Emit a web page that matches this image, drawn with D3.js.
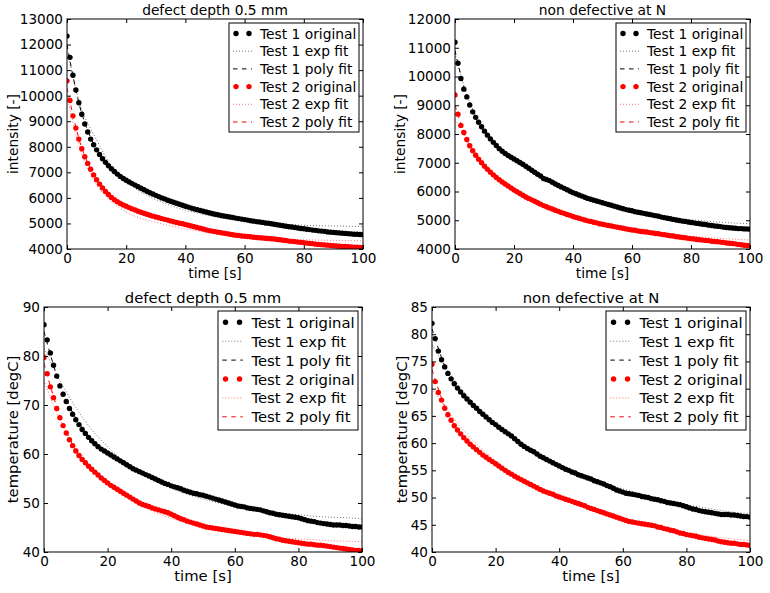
<!DOCTYPE html>
<html>
<head>
<meta charset="utf-8">
<script src="https://cdn.jsdelivr.net/npm/d3@7"></script>
<style>
  body { margin: 0; background: #fff; }
  svg { display: block; }
  text { font-family: "DejaVu Sans", sans-serif; fill: #000; }
</style>
</head>
<body>
<div id="chart"></div>
<script>
// time axis: one sample per second for the measured curves, every 5 s for the fits
var time = d3.range(0, 101);
var fitTime = [0, 5, 10, 15, 20, 25, 30, 35, 40, 45, 50, 55, 60, 65, 70, 75, 80, 85, 90, 95, 100];
var xTicks = [0, 20, 40, 60, 80, 100];

var titles = ["defect depth 0.5 mm", "non defective at N", "defect depth 0.5 mm", "non defective at N"];
var yLabels = ["intensity [-]", "intensity [-]", "temperature [degC]", "temperature [degC]"];
var legendLabels = ["Test 1 original", "Test 1 exp fit", "Test 1 poly fit",
                    "Test 2 original", "Test 2 exp fit", "Test 2 poly fit"];

var yTicksA = [4000, 5000, 6000, 7000, 8000, 9000, 10000, 11000, 12000, 13000];
var yTicksB = [4000, 5000, 6000, 7000, 8000, 9000, 10000, 11000, 12000];
var yTicksC = [40, 50, 60, 70, 80, 90];
var yTicksD = [40, 45, 50, 55, 60, 65, 70, 75, 80, 85];

// intensity, defect depth 0.5 mm
var A_t1 = [12330,11500,10800,10220,9720,9270,8890,8580,8300,8080,7880,
  7700,7530,7390,7260,7140,7030,6930,6840,6760,6690,
  6620,6560,6500,6440,6380,6320,6260,6200,6150,6100,
  6050,6000,5960,5910,5870,5830,5790,5750,5710,5670,
  5640,5600,5570,5540,5510,5480,5450,5420,5390,5360,
  5340,5310,5290,5270,5250,5230,5210,5190,5170,5150,
  5130,5110,5090,5070,5060,5040,5020,5010,4990,4970,
  4950,4930,4910,4890,4870,4860,4840,4820,4800,4790,
  4770,4760,4740,4730,4710,4700,4690,4670,4660,4650,
  4640,4630,4620,4610,4600,4590,4580,4580,4570,4560];
var A_t2 = [10580,9810,9210,8730,8300,7920,7610,7350,7120,6900,6710,
  6540,6390,6250,6130,6020,5930,5850,5780,5720,5670,
  5620,5570,5525,5480,5440,5400,5360,5320,5285,5250,
  5220,5190,5160,5130,5100,5070,5040,5010,4990,4960,
  4930,4900,4870,4840,4810,4780,4750,4720,4700,4680,
  4660,4640,4620,4600,4580,4560,4540,4530,4510,4500,
  4490,4480,4460,4450,4440,4430,4420,4410,4400,4390,
  4370,4360,4340,4330,4310,4300,4290,4270,4260,4250,
  4230,4220,4210,4190,4180,4170,4160,4150,4140,4130,
  4120,4110,4100,4100,4090,4080,4070,4070,4060,4050];
var A_exp1 = [11800,9450,8270,7250,6650,6230,5930,5700,5520,5380,5260,5170,5100,5050,5000,4960,4930,4910,4900,4890,4880];
var A_exp2 = [10000,7700,6500,5850,5450,5200,5050,4900,4790,4690,4600,4530,4480,4440,4410,4380,4360,4350,4340,4330,4320];
var A_poly1 = [12000,9300,7900,7130,6690,6370,6100,5870,5670,5500,5360,5250,5150,5060,4970,4880,4800,4720,4650,4600,4570];
var A_poly2 = [10300,7950,6710,6020,5670,5440,5250,5100,4960,4810,4680,4580,4500,4440,4390,4310,4250,4180,4130,4090,4050];

// intensity, non defective at N
var B_t1 = [11190,10460,9930,9560,9290,9010,8770,8580,8410,8250,8100,
  7960,7830,7710,7600,7490,7400,7320,7250,7190,7130,
  7070,7010,6950,6880,6810,6740,6670,6600,6540,6450,
  6420,6380,6320,6260,6210,6160,6110,6060,6010,5960,
  5920,5880,5840,5800,5760,5730,5700,5670,5640,5610,
  5580,5550,5520,5490,5460,5430,5400,5370,5350,5330,
  5300,5280,5260,5240,5220,5200,5180,5160,5140,5110,
  5090,5070,5050,5030,5010,4990,4970,4960,4940,4920,
  4910,4890,4880,4860,4850,4830,4820,4800,4790,4780,
  4760,4750,4740,4730,4720,4710,4710,4700,4700,4690];
var B_t2 = [9360,8690,8300,8050,7810,7590,7420,7260,7120,7000,6880,
  6770,6670,6580,6490,6410,6330,6260,6190,6120,6050,
  5990,5930,5870,5810,5760,5710,5660,5610,5560,5510,
  5470,5430,5390,5350,5310,5270,5240,5200,5170,5130,
  5100,5070,5040,5010,4980,4960,4930,4910,4880,4860,
  4840,4820,4800,4780,4760,4740,4720,4700,4680,4660,
  4650,4630,4610,4600,4590,4570,4560,4540,4530,4510,
  4500,4480,4460,4450,4430,4420,4400,4390,4370,4360,
  4350,4330,4320,4310,4300,4290,4270,4260,4250,4240,
  4230,4210,4200,4190,4180,4160,4150,4130,4120,4110];
var B_exp1 = [10800,9100,8150,7520,7080,6720,6420,6170,5950,5760,5590,5450,5330,5230,5150,5080,5020,4970,4930,4900,4880];
var B_exp2 = [8500,7650,6980,6480,6080,5770,5520,5320,5150,5000,4880,4780,4690,4620,4550,4500,4450,4410,4370,4340,4310];
var B_poly1 = [10900,9000,8080,7480,7120,6800,6480,6200,5960,5770,5600,5450,5320,5210,5110,5020,4930,4850,4780,4730,4700];
var B_poly2 = [9000,7580,6900,6460,6060,5760,5510,5310,5130,4980,4860,4760,4660,4590,4510,4430,4360,4300,4240,4180,4120];

// temperature, defect depth 0.5 mm
var C_t1 = [86.4,83.3,80.6,78.1,75.9,73.9,72.2,70.7,69.3,68.1,67.0,
  66.0,65.0,64.2,63.4,62.7,62.1,61.5,61.0,60.6,60.2,
  59.8,59.4,59.0,58.6,58.2,57.8,57.4,57.0,56.7,56.4,
  56.1,55.8,55.5,55.2,54.9,54.6,54.3,54.0,53.8,53.5,
  53.3,53.1,52.9,52.6,52.4,52.2,52.0,51.9,51.7,51.6,
  51.4,51.2,51.0,50.8,50.6,50.4,50.2,50.0,49.8,49.6,
  49.4,49.3,49.2,49.0,48.9,48.8,48.7,48.6,48.4,48.2,
  48.0,47.9,47.7,47.6,47.5,47.4,47.3,47.2,47.1,47.0,
  46.8,46.6,46.4,46.3,46.2,46.0,45.9,45.8,45.7,45.6,
  45.5,45.5,45.5,45.4,45.4,45.3,45.2,45.2,45.1,45.1];
var C_t2 = [79.7,76.4,73.7,71.5,69.3,67.4,65.8,64.3,62.9,61.7,60.6,
  59.7,58.9,58.2,57.5,56.9,56.3,55.7,55.1,54.6,54.1,
  53.6,53.2,52.8,52.4,52.0,51.6,51.2,50.8,50.4,50.0,
  49.7,49.5,49.3,49.0,48.8,48.6,48.4,48.2,48.0,47.7,
  47.4,47.1,46.8,46.6,46.3,46.1,45.9,45.7,45.5,45.3,
  45.1,45.0,44.9,44.8,44.7,44.6,44.5,44.4,44.3,44.2,
  44.1,44.0,43.9,43.8,43.7,43.6,43.6,43.5,43.4,43.3,
  43.1,42.9,42.7,42.6,42.4,42.3,42.2,42.1,42.0,41.9,
  41.8,41.7,41.6,41.6,41.5,41.4,41.4,41.3,41.2,41.1,
  41.0,40.9,40.8,40.7,40.6,40.5,40.4,40.3,40.3,40.2];
var C_exp1 = [81.5,75.0,69.5,65.0,61.5,58.6,56.3,54.5,53.0,51.8,50.8,50.0,49.3,48.7,48.3,47.9,47.6,47.3,47.1,47.0,46.8];
var C_exp2 = [75.0,67.0,61.5,57.2,54.0,51.5,49.6,48.1,46.9,45.9,45.1,44.5,44.0,43.6,43.2,42.9,42.7,42.5,42.3,42.2,42.1];
var C_poly1 = [85.0,74.2,67.3,62.9,60.1,58.2,56.5,55.0,53.6,52.5,51.5,50.7,49.8,49.0,48.3,47.6,47.0,46.3,45.8,45.4,45.1];
var C_poly2 = [78.5,67.8,60.8,56.8,54.0,52.0,50.1,48.8,47.7,46.4,45.4,44.7,44.2,43.7,43.2,42.5,42.0,41.6,41.2,40.7,40.2];

// temperature, non defective at N
var D_t1 = [82.0,79.2,76.9,75.3,74.0,72.8,71.8,70.9,70.1,69.4,68.7,
  68.1,67.5,66.9,66.4,65.8,65.3,64.8,64.3,63.8,63.4,
  62.9,62.5,62.1,61.7,61.3,60.8,60.3,59.8,59.4,59.0,
  58.7,58.4,58.0,57.6,57.3,57.0,56.7,56.4,56.1,55.8,
  55.5,55.2,55.0,54.7,54.5,54.2,54.0,53.8,53.6,53.4,
  53.1,52.9,52.7,52.5,52.2,52.0,51.7,51.4,51.2,51.0,
  50.8,50.7,50.6,50.5,50.4,50.2,50.1,50.0,49.8,49.7,
  49.6,49.4,49.3,49.1,49.0,48.9,48.8,48.7,48.5,48.3,
  48.1,47.9,47.8,47.6,47.5,47.4,47.3,47.2,47.1,47.0,
  46.9,46.9,46.9,46.8,46.8,46.7,46.6,46.5,46.5,46.4];
var D_t2 = [74.5,71.3,69.3,67.9,66.4,65.2,64.2,63.2,62.4,61.7,61.0,
  60.4,59.8,59.3,58.8,58.3,57.8,57.4,57.0,56.6,56.2,
  55.8,55.4,55.0,54.6,54.3,53.9,53.6,53.3,53.0,52.7,
  52.4,52.1,51.8,51.5,51.2,51.0,50.8,50.6,50.3,50.1,
  49.9,49.7,49.5,49.3,49.1,48.9,48.7,48.5,48.2,48.0,
  47.8,47.6,47.4,47.2,47.0,46.8,46.6,46.4,46.2,46.0,
  45.8,45.6,45.5,45.4,45.3,45.2,45.1,45.0,44.9,44.8,
  44.6,44.5,44.3,44.2,44.0,43.9,43.7,43.5,43.4,43.2,
  43.1,43.0,42.9,42.7,42.6,42.5,42.4,42.3,42.2,42.0,
  41.9,41.8,41.7,41.6,41.6,41.5,41.4,41.4,41.3,41.2];
var D_exp1 = [78.0,73.3,69.4,66.2,63.5,61.2,59.2,57.5,56.0,54.7,53.5,52.5,51.6,50.8,50.0,49.3,48.7,48.2,47.7,47.3,47.0];
var D_exp2 = [70.0,66.0,62.3,59.3,56.8,54.6,52.8,51.3,50.0,48.8,47.8,46.9,46.1,45.4,44.7,44.1,43.6,43.1,42.7,42.4,42.1];
var D_poly1 = [81.0,72.9,68.7,65.8,63.4,61.3,59.1,57.4,55.9,54.6,53.4,52.3,51.2,50.4,49.7,49.0,48.4,47.7,47.1,46.7,46.4];
var D_poly2 = [73.5,65.4,61.0,58.4,56.2,54.3,52.7,51.3,50.1,49.1,48.0,47.0,46.0,45.3,44.8,44.0,43.2,42.6,42.1,41.6,41.2];

var panels = [
  { yTicks: yTicksA, orig: [A_t1, A_t2], exp: [A_exp1, A_exp2], poly: [A_poly1, A_poly2],
    l: 67, r: 363, t: 19, b: 249, fs: 13.8, sc: 1, lgW: 130, lgH: 109, lgDy: 17.7, ylx: 12.5 },
  { yTicks: yTicksB, orig: [B_t1, B_t2], exp: [B_exp1, B_exp2], poly: [B_poly1, B_poly2],
    l: 455, r: 750, t: 19, b: 249, fs: 13.8, sc: 1, lgW: 130, lgH: 109, lgDy: 17.7, ylx: 400 },
  { yTicks: yTicksC, orig: [C_t1, C_t2], exp: [C_exp1, C_exp2], poly: [C_poly1, C_poly2],
    l: 44, r: 362, t: 307, b: 552, fs: 14.8, sc: 1.077, lgW: 140, lgH: 119, lgDy: 18.9, ylx: 12.5 },
  { yTicks: yTicksD, orig: [D_t1, D_t2], exp: [D_exp1, D_exp2], poly: [D_poly1, D_poly2],
    l: 432, r: 750, t: 307, b: 552, fs: 14.8, sc: 1.077, lgW: 140, lgH: 119, lgDy: 18.9, ylx: 401 }
];

var colors = ["#000000", "#ff0000"];
var tickFont = 13.6;

var svg = d3.select("#chart").append("svg")
    .attr("width", 770)
    .attr("height", 593);

panels.forEach(function(p, i) {
    var x = d3.scaleLinear().domain([0, 100]).range([p.l, p.r]);
    var y = d3.scaleLinear().domain(d3.extent(p.yTicks)).range([p.b, p.t]);
    var g = svg.append("g");

    g.append("clipPath").attr("id", "clip" + i)
      .append("rect")
        .attr("x", p.l).attr("y", p.t)
        .attr("width", p.r - p.l).attr("height", p.b - p.t);

    var plot = g.append("g").attr("clip-path", "url(#clip" + i + ")");

    var fitLine = d3.line()
        .x(function(d, k) { return x(fitTime[k]); })
        .y(function(d) { return y(d); })
        .curve(d3.curveCatmullRom);

    [0, 1].forEach(function(s) {
        plot.append("g").selectAll("circle")
            .data(p.orig[s])
            .enter().append("circle")
            .attr("cx", function(d, k) { return x(time[k]); })
            .attr("cy", function(d) { return y(d); })
            .attr("r", 2.7)
            .attr("fill", colors[s]);

        plot.append("path")
            .attr("d", fitLine(p.exp[s]))
            .attr("fill", "none")
            .attr("stroke", colors[s])
            .attr("stroke-opacity", 0.55)
            .attr("stroke-width", 1)
            .attr("stroke-dasharray", "1,2");

        plot.append("path")
            .attr("d", fitLine(p.poly[s]))
            .attr("fill", "none")
            .attr("stroke", colors[s])
            .attr("stroke-width", 1)
            .attr("stroke-dasharray", "4.5,4.5");
    });

    // axes, ticks pointing inwards on all four sides
    var axB = g.append("g")
        .attr("transform", "translate(0," + p.b + ")")
        .call(d3.axisBottom(x).tickValues(xTicks).tickSizeInner(-4).tickSizeOuter(0).tickPadding(4));
    var axT = g.append("g")
        .attr("transform", "translate(0," + p.t + ")")
        .call(d3.axisTop(x).tickValues(xTicks).tickSizeInner(-4).tickSizeOuter(0).tickFormat(""));
    var axL = g.append("g")
        .attr("transform", "translate(" + p.l + ",0)")
        .call(d3.axisLeft(y).tickValues(p.yTicks).tickSizeInner(-4).tickSizeOuter(0).tickPadding(4)
            .tickFormat(d3.format("d")));
    var axR = g.append("g")
        .attr("transform", "translate(" + p.r + ",0)")
        .call(d3.axisRight(y).tickValues(p.yTicks).tickSizeInner(-4).tickSizeOuter(0).tickFormat(""));

    [axB, axT, axL, axR].forEach(function(a) {
        a.attr("font-size", tickFont).attr("font-family", "DejaVu Sans");
        a.select(".domain").remove();
        a.selectAll("line").attr("stroke", "#000");
        a.selectAll("text").attr("fill", "#000");
    });

    g.append("rect")
        .attr("x", p.l).attr("y", p.t)
        .attr("width", p.r - p.l).attr("height", p.b - p.t)
        .attr("fill", "none")
        .attr("stroke", "#000")
        .attr("stroke-width", 1);

    // title and axis labels
    g.append("text")
        .attr("x", (p.l + p.r) / 2).attr("y", p.t - 4)
        .attr("text-anchor", "middle")
        .attr("font-size", p.fs)
        .text(titles[i]);

    g.append("text")
        .attr("x", (p.l + p.r) / 2).attr("y", p.b + 29)
        .attr("text-anchor", "middle")
        .attr("font-size", p.fs)
        .text("time [s]");

    g.append("text")
        .attr("transform", "translate(" + p.ylx + "," + ((p.t + p.b) / 2) + ") rotate(-90)")
        .attr("text-anchor", "middle")
        .attr("dominant-baseline", "central")
        .attr("font-size", p.fs)
        .text(yLabels[i]);

    // legend
    var lgX = p.r - 4 - p.lgW, lgY = p.t + 4;
    var sc = p.sc;
    var lg = g.append("g");
    lg.append("rect")
        .attr("x", lgX).attr("y", lgY)
        .attr("width", p.lgW).attr("height", p.lgH)
        .attr("fill", "#fff")
        .attr("stroke", "#000")
        .attr("stroke-width", 1);

    legendLabels.forEach(function(label, k) {
        var s = k < 3 ? 0 : 1, kind = k % 3;
        var cy = lgY + 10.5 * sc + k * p.lgDy;
        var x0 = lgX + 4 * sc, x1 = lgX + 23 * sc;
        if (kind === 0) {
            [lgX + 7 * sc, lgX + 20 * sc].forEach(function(cx) {
                lg.append("circle").attr("cx", cx).attr("cy", cy).attr("r", 2.7).attr("fill", colors[s]);
            });
        } else {
            lg.append("line")
                .attr("x1", x0).attr("x2", x1).attr("y1", cy).attr("y2", cy)
                .attr("stroke", colors[s])
                .attr("stroke-width", 1)
                .attr("stroke-opacity", kind === 1 ? 0.55 : 1)
                .attr("stroke-dasharray", kind === 1 ? "1,2" : "4.5,4.5");
        }
        lg.append("text")
            .attr("x", lgX + 31 * sc).attr("y", cy)
            .attr("dominant-baseline", "central")
            .attr("font-size", p.fs)
            .text(label);
    });
});
</script>
</body>
</html>
